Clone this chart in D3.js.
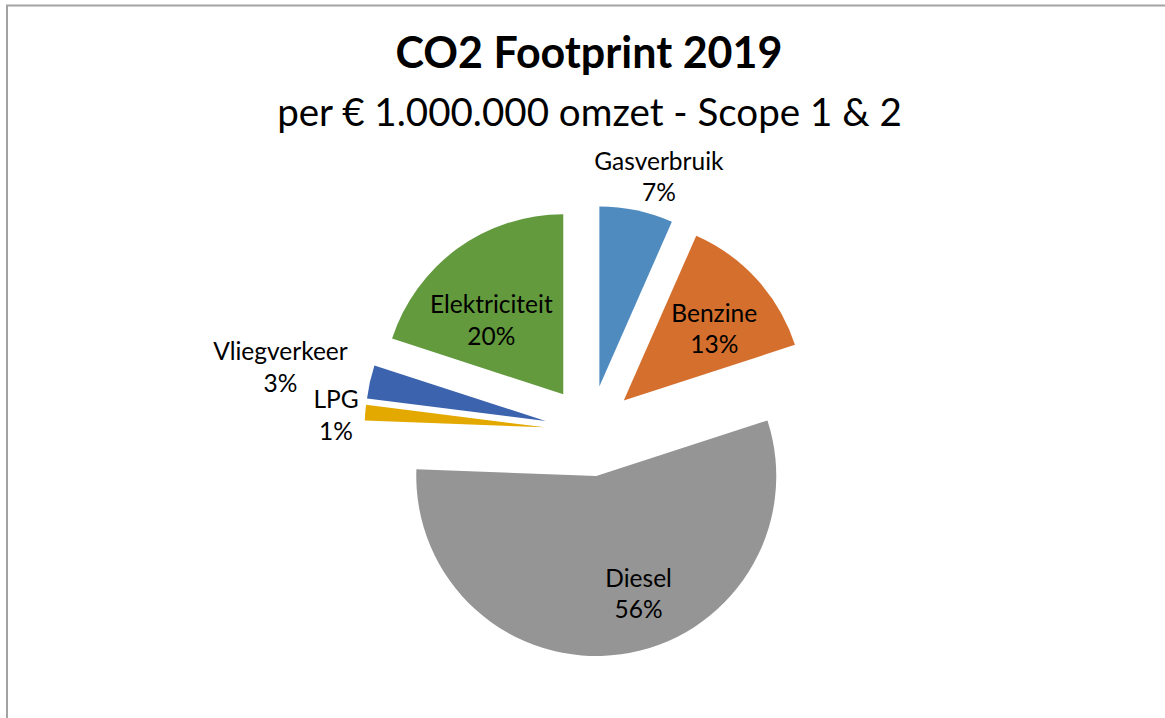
<!DOCTYPE html>
<html>
<head>
<meta charset="utf-8">
<script src="https://cdn.jsdelivr.net/npm/d3@7"></script>
<style>
  html, body { margin: 0; padding: 0; background: #fff; }
  svg { display: block; }
</style>
</head>
<body>
<svg id="chart" width="1165" height="718"></svg>
<script>
// ---- data ----
const categories = ["Gasverbruik", "Benzine", "Diesel", "LPG", "Vliegverkeer", "Elektriciteit"];
const values = [6.6, 13.4, 55.6, 1.4, 3.0, 20.0];
const titleText = "CO2 Footprint 2019";
const subtitleText = "per \u20AC 1.000.000 omzet - Scope 1 & 2";

// ---- styles / layout ----
const colors = ["#508BBF", "#D46F2D", "#959595", "#E3A900", "#3C63AE", "#639A3E"];
// label placement relative to each exploded slice: [angle offset (deg), radius factor]
const labelPlacement = [[4.0, 1.208], [3.9, 0.64], [-11.8, 0.697], [-1.5, 1.161], [-1.2, 1.503], [-8.3, 0.572]];
const W = 1165, H = 718;
const cx = 590, cy = 431, R = 180, explode = 45.5;
const fontFamily = "Lato, 'Open Sans', sans-serif";

const svg = d3.select("#chart");

// chart area border (top & left visible)
svg.append("rect")
  .attr("x", 7).attr("y", 5.5)
  .attr("width", 2000).attr("height", 2000)
  .attr("fill", "none")
  .attr("stroke", "#A3A3A3")
  .attr("stroke-width", 2);

// titles
function fitText(sel, targetWidth, startSize) {
  sel.attr("font-size", startSize);
  const w = sel.node().getComputedTextLength();
  sel.attr("font-size", startSize * targetWidth / w);
}
const title = svg.append("text")
  .attr("x", 589).attr("y", 68)
  .attr("text-anchor", "middle")
  .attr("font-family", fontFamily)
  .attr("font-weight", "bold")
  .attr("fill", "#000")
  .text(titleText);
fitText(title, 387, 42);

const subtitle = svg.append("text")
  .attr("x", 589.5).attr("y", 126)
  .attr("text-anchor", "middle")
  .attr("font-family", fontFamily)
  .attr("fill", "#000")
  .text(subtitleText);
fitText(subtitle, 625, 38);

// pie
const data = categories.map((c, i) => ({ name: c, value: values[i], idx: i }));
const pie = d3.pie().value(d => d.value).sort(null).startAngle(0).endAngle(2 * Math.PI);
const arcs = pie(data);
const arc = d3.arc().innerRadius(0).outerRadius(R);
const total = d3.sum(values);

const g = svg.append("g").attr("transform", `translate(${cx},${cy})`);

const slices = g.selectAll("g.slice")
  .data(arcs)
  .join("g")
  .attr("class", "slice")
  .attr("transform", d => {
    const mid = (d.startAngle + d.endAngle) / 2;
    return `translate(${explode * Math.sin(mid)},${-explode * Math.cos(mid)})`;
  });

slices.append("path")
  .attr("d", arc)
  .attr("fill", d => colors[d.data.idx])
  .attr("stroke", "none");

// labels
const labelSize = 24.5;
slices.each(function (d) {
  const mid = (d.startAngle + d.endAngle) / 2;
  const [off, fac] = labelPlacement[d.data.idx];
  const a = mid + off * Math.PI / 180;
  const lx = fac * R * Math.sin(a);
  const ly = -fac * R * Math.cos(a);
  const t = d3.select(this).append("text")
    .attr("text-anchor", "middle")
    .attr("font-family", fontFamily)
    .attr("font-size", labelSize)
    .attr("fill", "#000");
  t.append("tspan").attr("x", lx).attr("y", ly - 7.5).text(d.data.name);
  t.append("tspan").attr("x", lx).attr("y", ly + 24)
    .text(Math.round(d.data.value / total * 100) + "%");
});
</script>
</body>
</html>
